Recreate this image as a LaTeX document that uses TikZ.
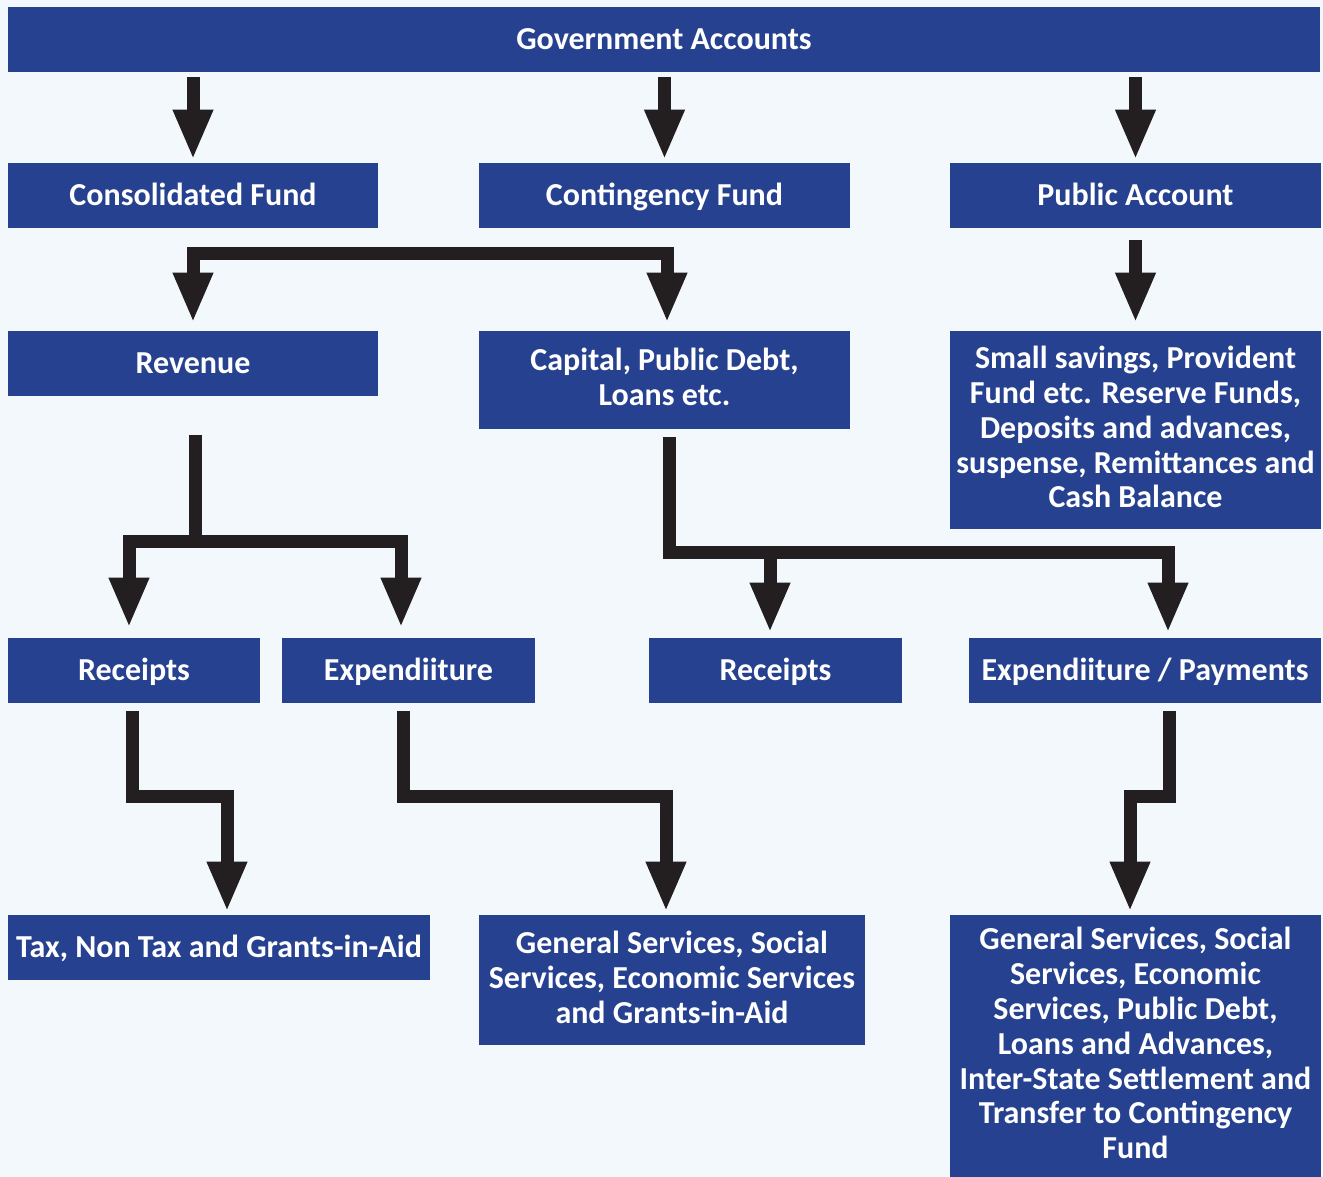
\documentclass[tikz,border=0pt]{standalone}
\usepackage{fontspec}
\setmainfont{Carlito}
\usetikzlibrary{arrows.meta}
\definecolor{boxblue}{RGB}{38,65,143}
\definecolor{bgc}{RGB}{242,248,251}
\definecolor{arrc}{RGB}{35,31,32}
\begin{document}
\begin{tikzpicture}[x=0.5pt,y=-0.5pt,
  box/.style={rectangle, fill=boxblue, text=white, inner sep=0pt, align=center,
    font=\fontsize{16}{17.4}\selectfont\bfseries, minimum height=32.5pt,
    execute at begin node={\rule{0pt}{13pt}},
    execute at end node={\rule[-3pt]{0pt}{3pt}}},
  conn/.style={draw=arrc, line width=6.5pt, line join=miter, line cap=butt},
  arr/.style={conn, -{Triangle[length=25pt,width=18.5pt]}},
  arrboth/.style={conn, {Triangle[length=25pt,width=18.5pt]}-{Triangle[length=25pt,width=18.5pt]}}]
\fill[bgc] (0,0) rectangle (1323,1177);
\useasboundingbox (0,0) rectangle (1323,1177);

% nodes
\node[box, minimum width=656pt] (ga) at (664,39.5) {Government Accounts};
\node[box, minimum width=185pt] (cf) at (193,195.5) {Consolidated Fund};
\node[box, minimum width=185.5pt] (ctf) at (664.5,195.5) {Contingency Fund};
\node[box, minimum width=185.5pt] (pa) at (1135.5,195.5) {Public Account};
\node[box, minimum width=185pt] (rev) at (193,363.5) {Revenue};
\node[box, minimum width=185.5pt, minimum height=49pt] (cap) at (664.5,380) {Capital, Public Debt,\\Loans etc.};
\node[box, minimum width=185.5pt, minimum height=99pt] (sav) at (1135.5,430) {Small savings, Provident\\Fund etc. Reserve Funds,\\Deposits and advances,\\suspense, Remittances and\\Cash Balance};
\node[box, minimum width=126pt] (rec1) at (134,670.5) {Receipts};
\node[box, minimum width=126.5pt] (exp1) at (408.5,670.5) {Expendiiture};
\node[box, minimum width=126.5pt] (rec2) at (775.5,670.5) {Receipts};
\node[box, minimum width=176pt] (exp2) at (1145,670.5) {Expendiiture / Payments};
\node[box, minimum width=211pt] (tax) at (219,947.5) {Tax, Non Tax and Grants-in-Aid};
\node[box, minimum width=193pt, minimum height=65pt] (gs1) at (672,980) {General Services, Social\\Services, Economic Services\\and Grants-in-Aid};
\node[box, minimum width=185.5pt, minimum height=131pt] (gs2) at (1135.5,1046) {General Services, Social\\Services, Economic\\Services, Public Debt,\\Loans and Advances,\\Inter-State Settlement and\\Transfer to Contingency\\Fund};

% top level arrows
\draw[arr] ([yshift=-2.5pt]ga.south -| cf.north) -- ([yshift=1.5pt]cf.north);
\draw[arr] ([yshift=-2.5pt]ga.south -| ctf.north) -- ([yshift=1.5pt]ctf.north);
\draw[arr] ([yshift=-2.5pt]ga.south -| pa.north) -- ([yshift=1.5pt]pa.north);

% consolidated fund bracket
\draw[arrboth] ([yshift=4pt]rev.north) -- ++(0,-69) -| ([xshift=1.25pt,yshift=4pt]cap.north);

% public account
\draw[arr] ([yshift=-6pt]pa.south) -- ([yshift=4pt]sav.north);

% revenue split
\coordinate (j1) at ([xshift=1pt]rev.south |- 0,541);
\draw[conn] ([xshift=1pt,yshift=-19.5pt]rev.south) -- (j1);
\draw[arrboth] ([xshift=-2.5pt,yshift=5pt]rec1.north) |- (j1) -| ([xshift=-3.75pt,yshift=5pt]exp1.north);

% capital split
\coordinate (j2) at ([xshift=2.25pt]cap.south |- 0,552);
\draw[arr] ([xshift=2.25pt,yshift=-4pt]cap.south) -- (j2) -| ([xshift=11.5pt,yshift=2.5pt]exp2.north);
\draw[arr] ([xshift=-2.75pt]rec2.north |- j2) -- ([xshift=-2.75pt,yshift=2.5pt]rec2.north);

% lower arrows
\draw[arr] ([xshift=-1pt,yshift=-4pt]rec1.south) -- ++(0,85) -| ([xshift=4pt,yshift=1.5pt]tax.north);
\draw[arr] ([xshift=-2.75pt,yshift=-4pt]exp1.south) -- ++(0,85) -| ([xshift=-3pt,yshift=1.5pt]gs1.north);
\draw[arr] ([xshift=12pt,yshift=-4pt]exp2.south) -- ++(0,85) -| ([xshift=-2.75pt,yshift=1.5pt]gs2.north);
\end{tikzpicture}
\end{document}
